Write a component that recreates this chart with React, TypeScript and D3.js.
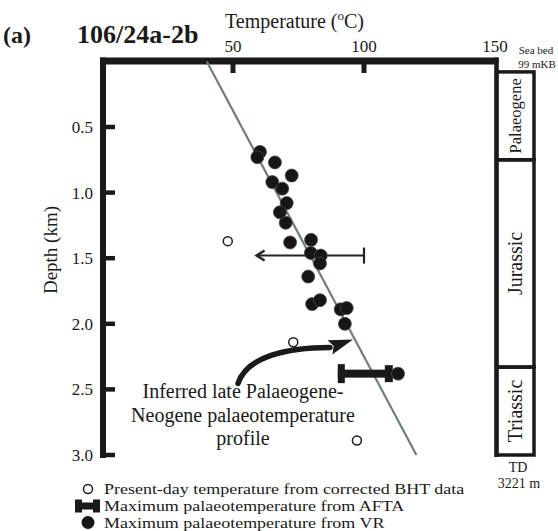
import React from "react";
import * as d3 from "d3";

// ---- data ----
const tempTicks = [50, 100, 150];
const depthTicks = [0.5, 1.0, 1.5, 2.0, 2.5, 3.0];

// VR maximum palaeotemperatures: [temperature °C, depth km]
const vrTemp = [60.3, 59.3, 66.0, 72.4, 65.0, 68.8, 70.5, 67.9, 70.1, 71.8, 79.8, 79.7, 83.5, 83.2, 78.7, 80.2, 83.2, 91.1, 93.4, 92.7, 113];
const vrDepth = [0.69, 0.73, 0.77, 0.87, 0.92, 0.97, 1.08, 1.15, 1.23, 1.38, 1.36, 1.46, 1.48, 1.54, 1.64, 1.85, 1.82, 1.89, 1.88, 2.0, 2.38];

// Present-day BHT temperatures
const bhtTemp = [48, 73, 97.3];
const bhtDepth = [1.37, 2.14, 2.89];

// AFTA maximum palaeotemperature range
const aftaMin = [90];
const aftaMax = [111];
const aftaDepth = [2.38];

// Upper-limit arrow (BHT range)
const limitFrom = [100];
const limitTo = [59];
const limitDepth = [1.48];

// Inferred palaeotemperature profile
const profileTemp = [40, 120];
const profileDepth = [0, 3.0];

// Stratigraphic column
const formationNames = ["Palaeogene", "Jurassic", "Triassic"];
const formationTop = [0.08, 0.75, 2.33];
const formationBase = [0.75, 2.33, 3.0];
const formationFont = [16.5, 20, 20];

// Curved annotation arrow (temperature, depth)
const arrowTail = [51.9, 2.455];
const arrowC1 = [55.2, 2.25];
const arrowC2 = [70.5, 2.18];
const arrowEnd = [87.0, 2.18];
const arrowTip = [95.8, 2.12];

const annotationLines = ["Inferred late Palaeogene-", "Neogene palaeotemperature", "profile"];
const legendLabels = [
  "Present-day temperature from corrected BHT data",
  "Maximum palaeotemperature from AFTA",
  "Maximum palaeotemperature from VR",
];

const W = 558;
const H = 531;
const FONT = "'Liberation Serif', 'Times New Roman', Times, serif";

export default function App() {
  const x = d3.scaleLinear().domain([0, 150]).range([102, 495]);
  const y = d3.scaleLinear().domain([0, 3]).range([61.4, 455]);

  const plotLeft = 103;
  const topY = 61;
  const frameRight = 496.5;
  const colRight = 534;

  const line = d3
    .line<number>()
    .x((_, i) => x(profileTemp[i]))
    .y((_, i) => y(profileDepth[i]));

  const curve = d3.path();
  curve.moveTo(x(arrowTail[0]), y(arrowTail[1]));
  curve.bezierCurveTo(
    x(arrowC1[0]), y(arrowC1[1]),
    x(arrowC2[0]), y(arrowC2[1]),
    x(arrowEnd[0]), y(arrowEnd[1])
  );
  // arrowhead
  const ex = x(arrowEnd[0]);
  const ey = y(arrowEnd[1]);
  const tx = x(arrowTip[0]);
  const ty = y(arrowTip[1]);
  const dx = tx - ex;
  const dy = ty - ey;
  const len = Math.hypot(dx, dy);
  const px = -dy / len;
  const py = dx / len;
  const hw = 7.5;
  const head = `M${tx},${ty} L${ex + px * hw},${ey + py * hw} L${ex + (dx / len) * 4},${ey + (dy / len) * 4} L${ex - px * hw},${ey - py * hw} Z`;

  const ink = "#1a1a1a";

  return (
    <svg
      width={W}
      height={H}
      style={{ position: "absolute", left: 0, top: 0, background: "#fff" }}
      fontFamily={FONT}
    >
      {/* Titles */}
      <text x={3} y={43} fontSize={24} fontWeight="bold" fill={ink}>(a)</text>
      <text x={77} y={43} fontSize={26} fontWeight="bold" fill={ink}>106/24a-2b</text>
      <text x={225} y={28} fontSize={20} fill={ink}>
        Temperature (<tspan fontSize={13} dy={-8}>o</tspan>
        <tspan dy={8}>C)</tspan>
      </text>

      {/* Top tick labels */}
      {tempTicks.map((t) => (
        <text key={t} x={x(t)} y={52} fontSize={17} textAnchor="middle" fill={ink}>
          {t}
        </text>
      ))}
      <text x={536} y={54} fontSize={11} textAnchor="middle" fill={ink}>Sea bed</text>
      <text x={537} y={68} fontSize={11} textAnchor="middle" fill={ink}>99 mKB</text>

      {/* Frame */}
      <line x1={plotLeft - 3} x2={frameRight + 2} y1={topY} y2={topY} stroke={ink} strokeWidth={7} />
      <line x1={plotLeft} x2={plotLeft} y1={topY - 3.5} y2={y(3) + 3} stroke={ink} strokeWidth={6} />

      {/* Top ticks */}
      {tempTicks
        .filter((t) => t < 150)
        .map((t) => (
          <line key={t} x1={x(t)} x2={x(t)} y1={topY} y2={topY + 12} stroke={ink} strokeWidth={5} />
        ))}

      {/* Left ticks and labels */}
      {depthTicks.map((d) => (
        <g key={d}>
          <line x1={plotLeft} x2={plotLeft + 12} y1={y(d)} y2={y(d)} stroke={ink} strokeWidth={4.5} />
          <text x={93} y={y(d) + 6} fontSize={17} textAnchor="end" fill={ink}>
            {d.toFixed(1)}
          </text>
        </g>
      ))}
      <text
        transform={`translate(57,250) rotate(-90)`}
        fontSize={19}
        textAnchor="middle"
        fill={ink}
      >
        Depth (km)
      </text>

      {/* Stratigraphic column */}
      {formationNames.map((name, i) => {
        const y0 = y(formationTop[i]);
        const y1 = y(formationBase[i]);
        return (
          <g key={name}>
            <rect
              x={frameRight}
              y={y0}
              width={colRight - frameRight}
              height={y1 - y0}
              fill="none"
              stroke={ink}
              strokeWidth={3.5}
            />
            <text
              transform={`translate(${(frameRight + colRight) / 2 + formationFont[i] * 0.33},${(y0 + y1) / 2}) rotate(-90)`}
              fontSize={formationFont[i]}
              textAnchor="middle"
              fill={ink}
            >
              {name}
            </text>
          </g>
        );
      })}
      <line x1={frameRight} x2={frameRight} y1={topY - 3.5} y2={y(3) + 2} stroke={ink} strokeWidth={4.5} />
      <text x={518} y={472} fontSize={14} textAnchor="middle" fill={ink}>TD</text>
      <text x={519} y={488} fontSize={14} textAnchor="middle" fill={ink}>3221 m</text>

      {/* Profile line */}
      <path d={line(profileTemp) || ""} stroke="#6f7c82" strokeWidth={2.2} fill="none" />

      {/* Upper-limit arrow */}
      {limitDepth.map((d, i) => (
        <g key={i} stroke="#222" fill="none">
          <line x1={x(limitFrom[i])} x2={x(limitTo[i]) + 1} y1={y(d)} y2={y(d)} strokeWidth={2} />
          <line x1={x(limitFrom[i])} x2={x(limitFrom[i])} y1={y(d) - 8} y2={y(d) + 8} strokeWidth={2.2} />
          <path
            d={`M${x(limitTo[i]) + 8},${y(d) - 5} L${x(limitTo[i])},${y(d)} L${x(limitTo[i]) + 8},${y(d) + 5}`}
            strokeWidth={2.4}
          />
        </g>
      ))}

      {/* BHT open circles */}
      {bhtTemp.map((t, i) => (
        <circle key={i} cx={x(t)} cy={y(bhtDepth[i])} r={4.5} fill="#fff" stroke={ink} strokeWidth={1.5} />
      ))}

      {/* AFTA bar */}
      {aftaMin.map((mn, i) => {
        const x0 = x(mn);
        const x1 = x(aftaMax[i]);
        const yy = y(aftaDepth[i]);
        return (
          <g key={i} fill={ink}>
            <rect x={x0} y={yy - 4} width={x1 - x0} height={8} />
            <rect x={x0} y={yy - 9.5} width={7} height={19} />
            <rect x={x1 - 8} y={yy - 8.5} width={8} height={17} />
          </g>
        );
      })}

      {/* VR filled circles */}
      {vrTemp.map((t, i) => (
        <circle key={i} cx={x(t)} cy={y(vrDepth[i])} r={6.5} fill="#161616" stroke="#4a4a4a" strokeWidth={0.8} />
      ))}

      {/* Curved arrow */}
      <path d={curve.toString()} stroke={ink} strokeWidth={5.5} fill="none" strokeLinecap="round" />
      <path d={head} fill={ink} />

      {/* Annotation */}
      {annotationLines.map((l, i) => (
        <text key={i} x={243} y={398 + i * 23.5} fontSize={20} textAnchor="middle" fill={ink}>
          {l}
        </text>
      ))}

      {/* Legend */}
      <circle cx={88} cy={489} r={4.5} fill="#fff" stroke={ink} strokeWidth={1.5} />
      <g fill={ink}>
        <rect x={75} y={502.5} width={25} height={7} />
        <rect x={75} y={499.5} width={7} height={13} />
        <rect x={93} y={499.5} width={7} height={13} />
      </g>
      <circle cx={88} cy={522.5} r={6.5} fill="#161616" />
      {legendLabels.map((l, i) => (
        <text
          key={i}
          transform={`translate(104,${494 + i * 17}) scale(1.16,1)`}
          fontSize={15.5}
          fill={ink}
        >
          {l}
        </text>
      ))}
    </svg>
  );
}
